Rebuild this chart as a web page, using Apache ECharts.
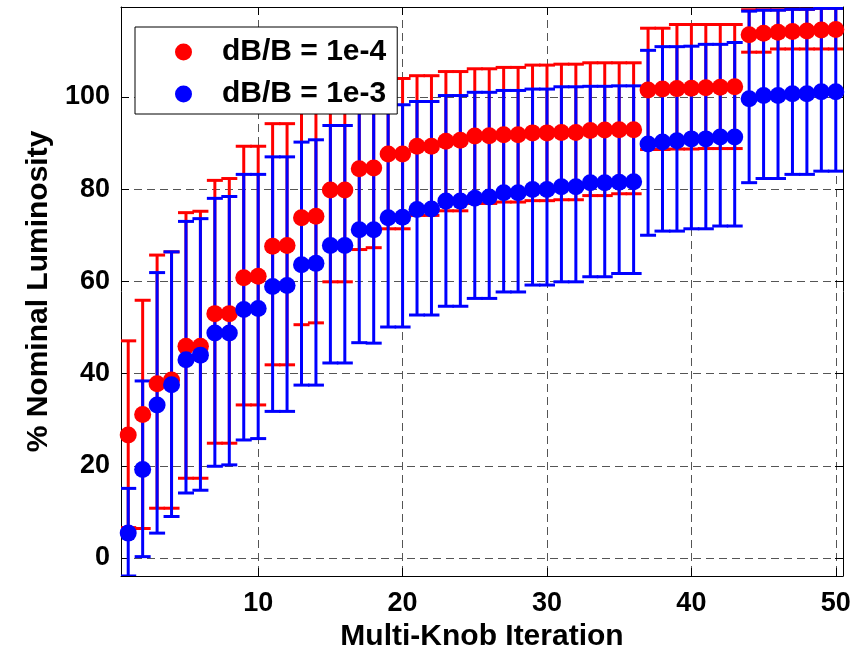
<!DOCTYPE html>
<html><head><meta charset="utf-8">
<script src="https://cdn.jsdelivr.net/npm/echarts@6/dist/echarts.min.js"></script>
<style>html,body{margin:0;padding:0;background:#fff}#c{width:858px;height:649px}</style>
</head><body><div id="c"></div>
<script>
const iterations = [1,2,3,4,5,6,7,8,9,10,11,12,13,14,15,16,17,18,19,20,21,22,23,24,25,26,27,28,29,30,31,32,33,34,35,36,37,38,39,40,41,42,43,44,45,46,47,48,49,50];
const redMean = [26.7,31.1,37.8,38.6,45.9,45.9,53.0,53.0,60.8,61.1,67.6,67.8,73.8,74.1,79.8,79.8,84.4,84.6,87.6,87.6,89.3,89.3,90.4,90.6,91.5,91.6,91.8,91.8,92.2,92.2,92.3,92.3,92.7,92.8,92.9,92.9,101.5,101.7,101.8,101.9,102.0,102.1,102.2,113.5,113.8,114.0,114.2,114.3,114.5,114.6];
const redLow = [6.6,6.4,10.8,10.8,17.3,17.3,24.9,24.9,33.2,33.2,41.9,41.9,50.6,51.0,59.9,59.9,66.9,67.3,71.4,71.4,74.3,74.3,75.3,75.3,76.9,76.9,77.2,77.2,77.5,77.5,77.7,77.7,78.6,78.6,79.0,79.0,88.6,88.6,88.7,88.7,88.8,88.8,88.8,109.7,109.7,110.4,110.4,110.4,110.4,110.4];
const redHigh = [47.1,55.9,65.7,66.4,74.9,75.2,81.9,82.3,89.3,89.3,94.2,94.2,97.0,97.2,99.7,99.7,101.9,101.9,104.0,104.0,104.6,104.6,105.5,105.5,106.1,106.1,106.4,106.4,106.9,106.9,107.1,107.1,107.4,107.4,107.4,107.4,114.9,114.9,115.7,115.7,115.7,115.7,115.7,118.9,118.9,118.9,119.0,119.0,119.2,119.2];
const blueMean = [5.4,19.2,33.2,37.6,43.0,44.0,48.8,48.8,53.9,54.1,58.9,59.1,63.6,63.9,67.8,67.8,71.2,71.2,73.8,73.9,75.6,75.7,77.4,77.4,78.0,78.3,79.2,79.2,79.9,79.9,80.5,80.5,81.4,81.4,81.5,81.6,89.8,90.2,90.5,90.9,90.9,91.3,91.3,99.6,100.3,100.3,100.7,100.7,101.1,101.1];
const blueLow = [-3.9,0.3,5.4,9.0,14.1,14.7,19.9,20.2,25.6,25.9,31.8,31.8,37.5,37.5,42.3,42.3,46.7,46.6,50.1,50.1,52.7,52.7,54.6,54.6,56.3,56.3,57.7,57.7,59.2,59.2,59.9,59.9,61.0,61.0,61.7,61.7,70.0,70.9,70.9,71.4,71.4,72.0,72.0,81.4,82.3,82.3,83.2,83.2,83.9,83.9];
const blueHigh = [15.1,38.4,61.9,66.4,73.0,73.6,78.0,78.4,83.2,83.2,87.0,87.0,90.2,90.7,93.8,93.8,97.0,97.0,97.5,98.3,99.0,99.0,100.3,100.3,101.0,101.0,101.4,101.4,101.7,101.7,102.2,102.2,102.3,102.3,102.4,102.4,110.1,110.9,110.9,111.0,111.4,111.4,111.8,118.6,118.8,118.8,119.0,119.0,119.2,119.2];
const xTicks = [10,20,30,40,50];
const yTicks = [0,20,40,60,80,100];
const seriesNames = ['dB/B = 1e-4','dB/B = 1e-3'];
const xTitle = 'Multi-Knob Iteration';
const yTitle = '% Nominal Luminosity';

const FONT = '"Liberation Sans", Arial, Helvetica, sans-serif';
const RED = '#ff0000', BLUE = '#0000ff';

function errorBars(color) {
  return function (params, api) {
    const x = api.value(0), lo = api.value(1), hi = api.value(2);
    const a = api.coord([x, lo]), b = api.coord([x, hi]);
    const cap = 8;
    const style = { stroke: color, lineWidth: 3, fill: null };
    return { type: 'group', children: [
      { type: 'line', shape: { x1: a[0], y1: a[1], x2: b[0], y2: b[1] }, style: style },
      { type: 'line', shape: { x1: a[0] - cap, y1: a[1], x2: a[0] + cap, y2: a[1] }, style: style },
      { type: 'line', shape: { x1: b[0] - cap, y1: b[1], x2: b[0] + cap, y2: b[1] }, style: style }
    ]};
  };
}

const chart = echarts.init(document.getElementById('c'), null, { renderer: 'canvas' });
const gridLine = { show: true, lineStyle: { color: '#555', type: [8, 5], width: 1 } };
const labelStyle = { color: '#000', fontSize: 27, fontWeight: 'bold', fontFamily: FONT };
const xMin = 0.5, xMax = 50.5, yMin = -3.9, yMax = 119.5;

chart.setOption({
  animation: false,
  backgroundColor: '#fff',
  grid: { left: 121, top: 7, right: 15, bottom: 73, show: false, containLabel: false, outerBoundsMode: 'none' },
  legend: {
    data: seriesNames.map(n => ({ name: n, icon: 'circle' })),
    orient: 'vertical', left: 135, top: 27,
    padding: [10, 11, 5, 40], itemGap: 12,
    itemWidth: 17, itemHeight: 17,
    borderColor: '#000', borderWidth: 1, backgroundColor: '#fff',
    selectedMode: false,
    textStyle: { color: '#000', fontSize: 30, fontWeight: 'bold', fontFamily: FONT, padding: [0, 0, 0, 25] }
  },
  xAxis: [{
    type: 'value', min: xMin, max: xMax, position: 'bottom',
    name: xTitle, nameLocation: 'middle', nameGap: 41,
    nameTextStyle: { color: '#000', fontSize: 30, fontWeight: 'bold', fontFamily: FONT },
    axisLine: { show: true, onZero: false, lineStyle: { color: '#000', width: 1 } },
    axisTick: { show: true, inside: true, length: 8, customValues: xTicks, lineStyle: { color: '#000' } },
    axisLabel: { show: true, margin: 14, customValues: xTicks, ...labelStyle },
    splitLine: gridLine
  }, {
    type: 'value', min: xMin, max: xMax, position: 'top',
    axisLine: { show: true, onZero: false, lineStyle: { color: '#000', width: 1 } },
    axisTick: { show: true, inside: true, length: 8, customValues: xTicks, lineStyle: { color: '#000' } },
    axisLabel: { show: false }, splitLine: { show: false }
  }],
  yAxis: [{
    type: 'value', min: yMin, max: yMax, position: 'left',
    name: yTitle, nameLocation: 'middle', nameGap: 66, nameRotate: 90,
    nameTextStyle: { color: '#000', fontSize: 30, fontWeight: 'bold', fontFamily: FONT },
    axisLine: { show: true, onZero: false, lineStyle: { color: '#000', width: 1 } },
    axisTick: { show: true, inside: true, length: 8, customValues: yTicks, lineStyle: { color: '#000' } },
    axisLabel: { show: true, margin: 11, customValues: yTicks, ...labelStyle },
    splitLine: gridLine
  }, {
    type: 'value', min: yMin, max: yMax, position: 'right',
    axisLine: { show: true, onZero: false, lineStyle: { color: '#000', width: 1 } },
    axisTick: { show: true, inside: true, length: 8, customValues: yTicks, lineStyle: { color: '#000' } },
    axisLabel: { show: false }, splitLine: { show: false }
  }],
  series: [
    { type: 'custom', name: 'err1', renderItem: errorBars(RED), clip: true,
      encode: { x: 0, y: [1, 2] },
      data: iterations.map((x, i) => [x, redLow[i], redHigh[i]]) },
    { type: 'scatter', name: seriesNames[0], symbol: 'circle', symbolSize: 17,
      itemStyle: { color: RED, opacity: 1 }, clip: true,
      data: iterations.map((x, i) => [x, redMean[i]]) },
    { type: 'custom', name: 'err2', renderItem: errorBars(BLUE), clip: true,
      encode: { x: 0, y: [1, 2] },
      data: iterations.map((x, i) => [x, blueLow[i], blueHigh[i]]) },
    { type: 'scatter', name: seriesNames[1], symbol: 'circle', symbolSize: 17,
      itemStyle: { color: BLUE, opacity: 1 }, clip: true,
      data: iterations.map((x, i) => [x, blueMean[i]]) }
  ]
});
</script></body></html>
